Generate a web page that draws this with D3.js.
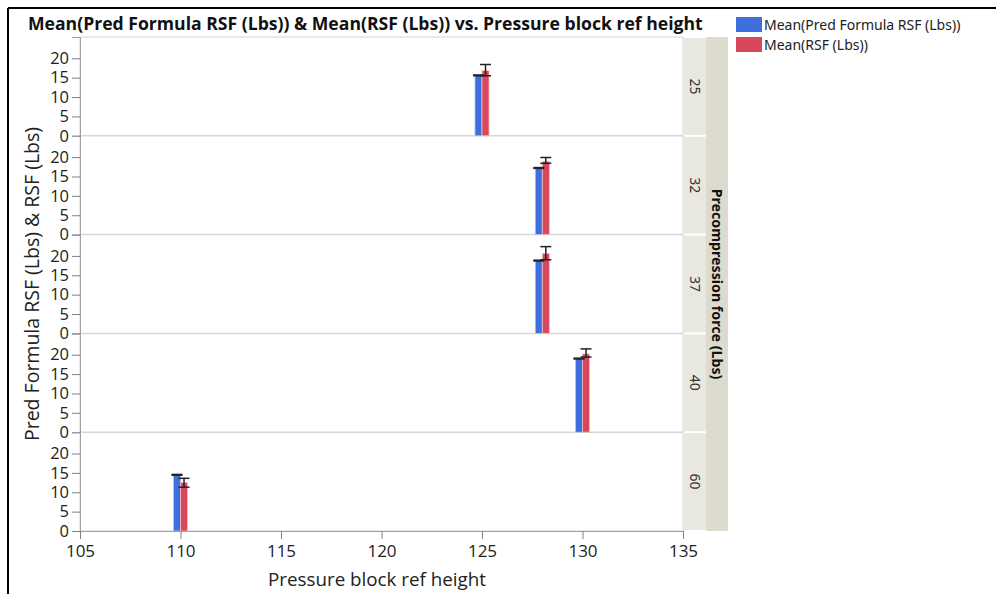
<!DOCTYPE html>
<html>
<head>
<meta charset="utf-8">
<script src="https://cdn.jsdelivr.net/npm/d3@7"></script>
<style>
  body { margin: 0; background: #fff; }
  svg { display: block; font-family: "Noto Sans", "Open Sans", sans-serif; }
</style>
</head>
<body>
<svg id="chart" width="996" height="594"></svg>
<script>
// Precompression force groups (one panel each, top to bottom)
const groups = ["25", "32", "37", "40", "60"];
// Pressure block ref height for each group
const heights = [125, 128, 128, 130, 110];
// Mean predicted RSF (blue) and its interval
const predMean = [15.6, 17.2, 18.8, 19.0, 14.5];
const predLo   = [15.5, 17.1, 18.7, 18.9, 14.4];
const predHi   = [15.7, 17.3, 18.9, 19.1, 14.6];
// Mean measured RSF (red) and its interval
const rsfMean = [16.8, 18.9, 20.6, 20.2, 12.5];
const rsfLo   = [15.5, 18.4, 19.0, 19.4, 11.3];
const rsfHi   = [18.4, 19.9, 22.4, 21.5, 13.6];

const xTicks = [105, 110, 115, 120, 125, 130, 135];
const yTicks = [0, 5, 10, 15, 20];
const seriesNames = ["Mean(Pred Formula RSF (Lbs))", "Mean(RSF (Lbs))"];
const colors = ["#3f6fdf", "#d9475a"];

const svg = d3.select("#chart");

// outer frame
svg.append("line").attr("x1", 8).attr("x2", 996).attr("y1", 8).attr("y2", 8)
  .attr("stroke", "#000").attr("stroke-width", 2);
svg.append("line").attr("x1", 8).attr("x2", 8).attr("y1", 8).attr("y2", 594)
  .attr("stroke", "#000").attr("stroke-width", 2);

// title
svg.append("text").attr("x", 28).attr("y", 30)
  .attr("font-size", 17.6).attr("font-weight", "bold").attr("fill", "#111")
  .attr("font-family", "'Open Sans', sans-serif")
  .text("Mean(Pred Formula RSF (Lbs)) & Mean(RSF (Lbs)) vs. Pressure block ref height");

const plotL = 80, plotR = 683, plotT = 37, plotB = 531;
const panelH = (plotB - plotT) / groups.length;

const x = d3.scaleLinear().domain([105, 135]).range([plotL, plotR]);
const barW = x(105.35) - x(105);

// plot background and frame
svg.append("rect").attr("x", plotL).attr("y", plotT)
  .attr("width", plotR - plotL).attr("height", plotB - plotT)
  .attr("fill", "#fff").attr("stroke", "#d4d4d4");

groups.forEach((g, i) => {
  const pTop = plotT + i * panelH;
  const pBot = pTop + panelH;
  const y = d3.scaleLinear().domain([0, 25.5]).range([pBot, pTop]);

  // panel separator
  if (i < groups.length - 1) {
    svg.append("line").attr("x1", plotL).attr("x2", plotR)
      .attr("y1", pBot).attr("y2", pBot)
      .attr("stroke", "#d8d8d8").attr("stroke-width", 1.5);
  }

  // y axis for this panel
  const ax = svg.append("g").attr("transform", `translate(${plotL},0)`)
    .call(d3.axisLeft(y).tickValues(yTicks).tickSize(8).tickPadding(3));
  ax.select(".domain").attr("stroke", "#a0a0a0");
  ax.selectAll(".tick line").attr("stroke", "#808080");
  ax.selectAll(".tick text").attr("font-size", 16.5).attr("fill", "#222")
    .attr("font-family", "'Open Sans', sans-serif");

  const cx = x(heights[i]);
  // predicted bar (left of value)
  svg.append("rect").attr("x", cx - barW).attr("y", y(predMean[i]))
    .attr("width", barW).attr("height", y(0) - y(predMean[i]))
    .attr("fill", colors[0]).attr("stroke", "#b9c8f2").attr("stroke-width", 0.8);
  // measured bar (right of value)
  svg.append("rect").attr("x", cx).attr("y", y(rsfMean[i]))
    .attr("width", barW).attr("height", y(0) - y(rsfMean[i]))
    .attr("fill", colors[1]).attr("stroke", "#f0c0c6").attr("stroke-width", 0.8);

  // error bars
  const errs = [
    { c: cx - barW / 2, lo: predLo[i], hi: predHi[i] },
    { c: cx + barW / 2, lo: rsfLo[i], hi: rsfHi[i] }
  ];
  errs.forEach(e => {
    const ge = svg.append("g").attr("stroke", "#222").attr("stroke-width", 1.5);
    ge.append("line").attr("x1", e.c).attr("x2", e.c)
      .attr("y1", y(e.lo)).attr("y2", y(e.hi));
    [e.lo, e.hi].forEach(v => {
      ge.append("line").attr("x1", e.c - 5.5).attr("x2", e.c + 5.5)
        .attr("y1", y(v)).attr("y2", y(v));
    });
  });

  // inner strip with group label
  svg.append("rect").attr("x", plotR + 1).attr("y", pTop + 1)
    .attr("width", 22).attr("height", panelH - 2)
    .attr("fill", "#e8e8e0");
  svg.append("text")
    .attr("transform", `translate(${plotR + 7},${(pTop + pBot) / 2}) rotate(90)`)
    .attr("text-anchor", "middle").attr("font-size", 14).attr("fill", "#333")
    .text(g);
});

// outer strip with grouping variable name
svg.append("rect").attr("x", plotR + 23).attr("y", plotT)
  .attr("width", 22).attr("height", plotB - plotT).attr("fill", "#dcdbcd");
svg.append("text")
  .attr("transform", `translate(${plotR + 29},${(plotT + plotB) / 2}) rotate(90)`)
  .attr("text-anchor", "middle").attr("font-size", 14.2).attr("font-weight", "bold")
  .attr("fill", "#111").text("Precompression force (Lbs)");

// x axis
const xa = svg.append("g").attr("transform", `translate(0,${plotB})`)
  .call(d3.axisBottom(x).tickValues(xTicks).tickSize(8).tickPadding(6)
    .tickFormat(d3.format("d")));
xa.select(".domain").attr("stroke", "#a0a0a0");
xa.selectAll(".tick line").attr("stroke", "#808080");
xa.selectAll(".tick text").attr("font-size", 17).attr("fill", "#222")
  .attr("font-family", "'Open Sans', sans-serif");

// axis titles
svg.append("text").attr("x", 377).attr("y", 586)
  .attr("text-anchor", "middle").attr("font-size", 18.8).attr("fill", "#222")
  .attr("font-family", "'Open Sans', sans-serif")
  .text("Pressure block ref height");
svg.append("text")
  .attr("transform", `translate(39,${(plotT + plotB) / 2}) rotate(-90)`)
  .attr("text-anchor", "middle").attr("font-size", 19.5).attr("fill", "#222")
  .attr("font-family", "'Open Sans', sans-serif")
  .text("Pred Formula RSF (Lbs) & RSF (Lbs)");

// legend
const lg = svg.append("g").attr("transform", "translate(736,17)");
seriesNames.forEach((n, i) => {
  lg.append("rect").attr("x", 0).attr("y", i * 20).attr("width", 26).attr("height", 15)
    .attr("fill", colors[i]);
  lg.append("text").attr("x", 28).attr("y", i * 20 + 12.5)
    .attr("font-size", 14).attr("fill", "#222").text(n);
});
</script>
</body>
</html>
